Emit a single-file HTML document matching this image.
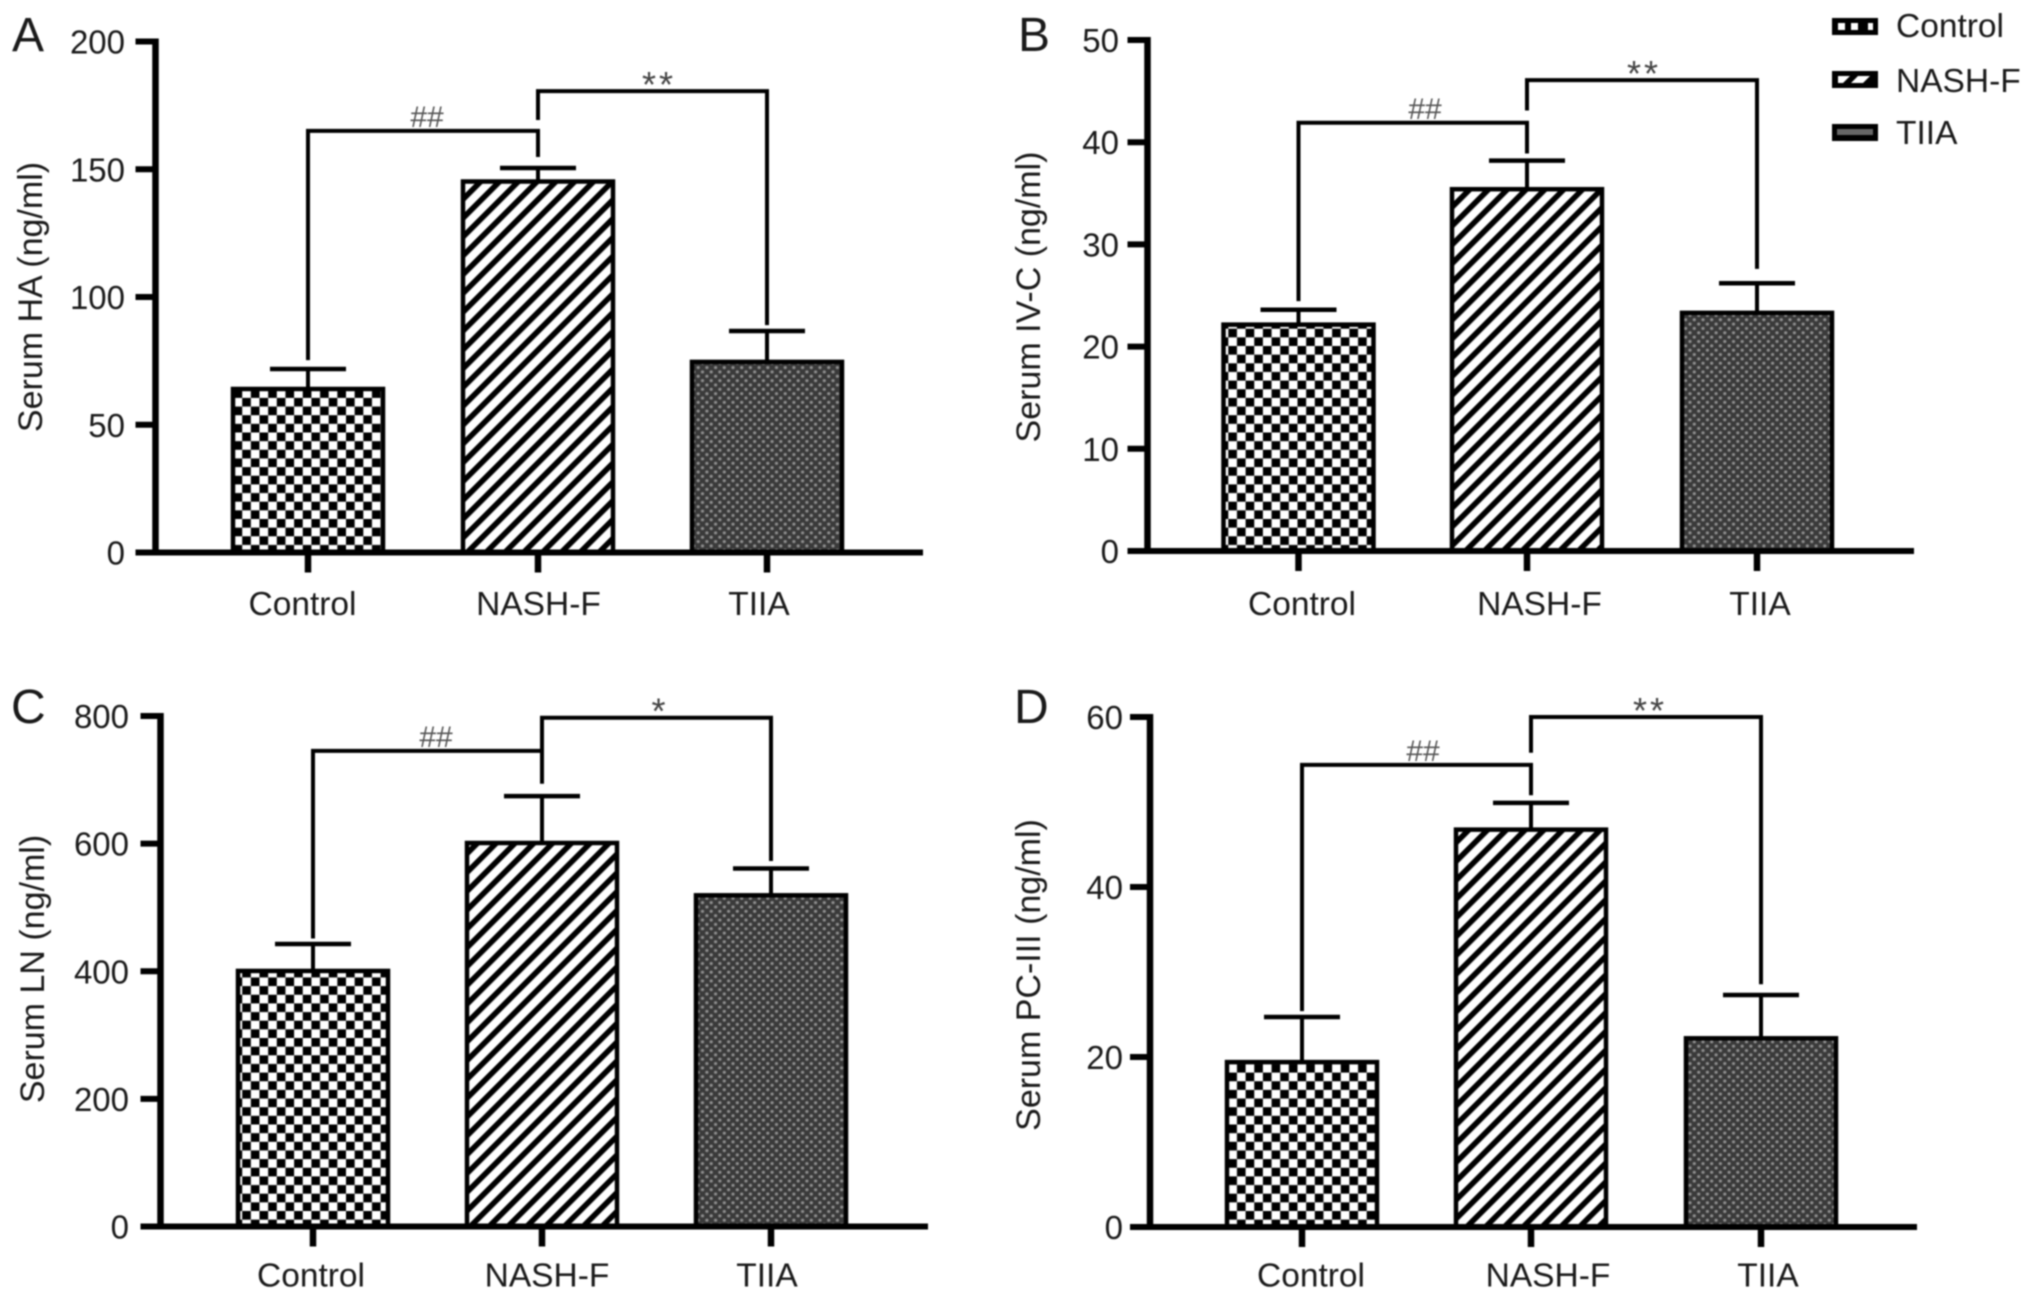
<!DOCTYPE html>
<html lang="en">
<head>
<meta charset="utf-8">
<title>Serum fibrosis markers</title>
<style>
  html, body { margin: 0; padding: 0; background: #fff; }
  #figure { display: block; width: 2032px; height: 1301px; filter: blur(0.8px); }
  text { font-family: "Liberation Sans", Arial, sans-serif; fill: #1a1a1a; }
</style>
</head>
<body>
<svg id="figure" xmlns="http://www.w3.org/2000/svg" width="2032" height="1301" viewBox="0 0 2032 1301">
  <defs>
    <pattern id="pat-check" patternUnits="userSpaceOnUse" width="17.3" height="17.3">
      <rect width="17.3" height="17.3" fill="#fff"/>
      <rect width="8.65" height="8.65" fill="#000"/>
      <rect x="8.65" y="8.65" width="8.65" height="8.65" fill="#000"/>
    </pattern>
    <pattern id="pat-stripe" patternUnits="userSpaceOnUse" width="13.3" height="13.3" patternTransform="rotate(45)">
      <rect width="13.3" height="13.3" fill="#fff"/>
      <rect width="5.6" height="13.3" fill="#000"/>
    </pattern>
    <pattern id="pat-dots" patternUnits="userSpaceOnUse" width="8.7" height="8.7">
      <rect width="8.7" height="8.7" fill="#3a3a3a"/>
      <circle cx="2.2" cy="2.2" r="1.6" fill="#8f8f8f"/>
      <circle cx="6.5" cy="6.5" r="1.6" fill="#8f8f8f"/>
    </pattern>
  </defs>
  <rect width="2032" height="1301" fill="#fff"/>

  <g id="legend">
    <g>
      <rect x="1833" y="19" width="44" height="15" fill="#000" stroke="#000" stroke-width="2"/>
      <rect x="1838" y="23" width="7" height="7" fill="#fff"/>
      <rect x="1851" y="23" width="7" height="7" fill="#fff"/>
      <rect x="1868" y="23" width="5" height="7" fill="#fff"/>
      <text x="1896" y="37" font-size="33.5">Control</text>
    </g>
    <g>
      <rect x="1833" y="72" width="44" height="15" fill="#000" stroke="#000" stroke-width="2"/>
      <polygon points="1838,76 1850,76 1843,83 1838,83" fill="#fff"/>
      <polygon points="1858,76 1870,76 1863,83 1851,83" fill="#fff"/>
      <text x="1896" y="92" font-size="33.5">NASH-F</text>
    </g>
    <g>
      <rect x="1833" y="125" width="44" height="15" fill="#000" stroke="#000" stroke-width="2"/>
      <rect x="1837" y="129" width="36" height="6" fill="#666"/>
      <text x="1896" y="144" font-size="33.5">TIIA</text>
    </g>
  </g>
</svg>

<script>
// ---------- chart data ----------
const categories = ['Control', 'NASH-F', 'TIIA'];

const panelAMeans = [64.0, 145.2, 74.6];
const panelAErrorTops = [71.8, 150.5, 86.7];
const panelATicks = [0, 50, 100, 150, 200];
const panelABrackets = [165.0, 180.6];
const panelABracketEnds = [75.3, 154.8, 169.3, 89.0];

const panelBMeans = [22.15, 35.4, 23.3];
const panelBErrorTops = [23.6, 38.2, 26.2];
const panelBTicks = [0, 10, 20, 30, 40, 50];
const panelBBrackets = [41.9, 46.07];
const panelBBracketEnds = [24.45, 38.9, 43.1, 27.6];

const panelCMeans = [400.5, 601, 519];
const panelCErrorTops = [442.7, 674.5, 561];
const panelCTicks = [0, 200, 400, 600, 800];
const panelCBrackets = [745.4, 797.3];
const panelCBracketEnds = [451.3, 693.9, 747.3, 572.8];

const panelDMeans = [19.4, 46.75, 22.2];
const panelDErrorTops = [24.7, 49.9, 27.3];
const panelDTicks = [0, 20, 40, 60];
const panelDBrackets = [54.37, 60];
const panelDBracketEnds = [25.4, 50.8, 55.8, 28.56];

const fills = ['url(#pat-check)', 'url(#pat-stripe)', 'url(#pat-dots)'];

const NS = 'http://www.w3.org/2000/svg';
const root = document.getElementById('figure');

function make(parent, tag, attrs, txt) {
  const el = document.createElementNS(NS, tag);
  for (const k in attrs) el.setAttribute(k, attrs[k]);
  if (txt !== undefined) el.textContent = txt;
  parent.appendChild(el);
  return el;
}

function drawPanel(p) {
  const g = make(root, 'g', {});
  
  

  const maxTick = p.ticks[p.ticks.length - 1];
  const yScale = v => p.y0 + (p.yTop - p.y0) * (v / maxTick);

  // panel letter
  const letter = make(g, 'text', { x: p.letterX, y: p.letterY, 'font-size': 48 }, p.id);
  
  

  // y-axis title
  const title = make(g, 'text', {
    transform: 'translate(' + p.titleX + ',' + p.titleY + ') rotate(-90)',
    'text-anchor': 'middle', 'font-size': 34
  }, p.title);
  
  

  // bars
  categories.forEach((c, i) => {
    const cx = p.xs[i];
    const top = yScale(p.means[i]);
    const capY = yScale(p.errorTops[i]);

    const stem = make(g, 'line', { x1: cx, x2: cx, y1: capY, y2: top, stroke: '#000', 'stroke-width': 4 });
    
    

    const cap = make(g, 'line', { x1: cx - 38, x2: cx + 38, y1: capY, y2: capY, stroke: '#000', 'stroke-width': 4.5 });
    
    

    const bar = make(g, 'rect', {
      x: cx - 75, y: top, width: 150, height: p.y0 - top,
      fill: fills[i], stroke: '#000', 'stroke-width': 4.5
    });
    
    

    const tick = make(g, 'line', { x1: cx, x2: cx, y1: p.y0, y2: p.y0 + 20, stroke: '#000', 'stroke-width': 6.5 });
    
    

    const lab = make(g, 'text', { x: p.labelXs[i], y: p.labelY, 'text-anchor': 'middle', 'font-size': 33.5 }, c);
    
    
  });

  // axes
  const yAxis = make(g, 'line', { x1: p.axisX, x2: p.axisX, y1: p.yTop - 3, y2: p.y0, stroke: '#000', 'stroke-width': 6.5 });
  
  

  const xAxis = make(g, 'line', { x1: p.axisX - 20, x2: p.xEnd, y1: p.y0, y2: p.y0, stroke: '#000', 'stroke-width': 6 });
  
  

  p.ticks.forEach(t => {
    const y = yScale(t);
    const tk = make(g, 'line', { x1: p.axisX - 20, x2: p.axisX, y1: y, y2: y, stroke: '#000', 'stroke-width': 6 });
    
    
    const tl = make(g, 'text', { x: p.tickLabelX, y: y + 12, 'text-anchor': 'end', 'font-size': 33 }, String(t));
    
    
  });

  // significance brackets
  const lowY = yScale(p.brackets[0]);
  const upY = yScale(p.brackets[1]);
  const low = make(g, 'polyline', {
    points: p.xs[0] + ',' + yScale(p.bracketEnds[0]) + ' ' + p.xs[0] + ',' + lowY + ' ' +
            p.xs[1] + ',' + lowY + ' ' + p.xs[1] + ',' + yScale(p.bracketEnds[1]),
    fill: 'none', stroke: '#000', 'stroke-width': 4
  });
  
  

  const up = make(g, 'polyline', {
    points: p.xs[1] + ',' + yScale(p.bracketEnds[2]) + ' ' + p.xs[1] + ',' + upY + ' ' +
            p.xs[2] + ',' + upY + ' ' + p.xs[2] + ',' + yScale(p.bracketEnds[3]),
    fill: 'none', stroke: '#000', 'stroke-width': 4
  });
  
  

  const hash = make(g, 'text', {
    x: p.hashX, y: lowY - 4, 'text-anchor': 'middle', 'font-size': 30
  }, '##');
  hash.style.fill = '#555';
  
  

  const star = make(g, 'text', {
    x: p.starX, y: upY + 6, 'text-anchor': 'middle', 'font-size': 36, 'letter-spacing': 3
  }, p.star);
  star.style.fill = '#444';
  
  
}

drawPanel({
  id: 'A', title: 'Serum HA (ng/ml)', star: '**',
  means: panelAMeans, errorTops: panelAErrorTops, ticks: panelATicks,
  brackets: panelABrackets, bracketEnds: panelABracketEnds,
  axisX: 155.5, yTop: 41.5, y0: 552.5, xEnd: 923, xs: [308, 538, 767],
  labelXs: [302.5, 538.5, 759], labelY: 615, tickLabelX: 125,
  letterX: 12, letterY: 51, titleX: 42, titleY: 297,
  hashX: 427, starX: 659
});
drawPanel({
  id: 'B', title: 'Serum IV-C (ng/ml)', star: '**',
  means: panelBMeans, errorTops: panelBErrorTops, ticks: panelBTicks,
  brackets: panelBBrackets, bracketEnds: panelBBracketEnds,
  axisX: 1147.5, yTop: 40, y0: 551, xEnd: 1914, xs: [1298.5, 1527, 1757],
  labelXs: [1302, 1539.5, 1760], labelY: 615, tickLabelX: 1119,
  letterX: 1018, letterY: 51, titleX: 1040, titleY: 297,
  hashX: 1425, starX: 1644
});
drawPanel({
  id: 'C', title: 'Serum LN (ng/ml)', star: '*',
  means: panelCMeans, errorTops: panelCErrorTops, ticks: panelCTicks,
  brackets: panelCBrackets, bracketEnds: panelCBracketEnds,
  axisX: 160.5, yTop: 716, y0: 1226.5, xEnd: 928, xs: [313, 542, 771],
  labelXs: [311, 547, 767], labelY: 1286.5, tickLabelX: 129,
  letterX: 11, letterY: 723, titleX: 44, titleY: 969,
  hashX: 436, starX: 660
});
drawPanel({
  id: 'D', title: 'Serum PC-III (ng/ml)', star: '**',
  means: panelDMeans, errorTops: panelDErrorTops, ticks: panelDTicks,
  brackets: panelDBrackets, bracketEnds: panelDBracketEnds,
  axisX: 1150, yTop: 717, y0: 1227, xEnd: 1917, xs: [1302, 1531, 1761],
  labelXs: [1311, 1548, 1768], labelY: 1286.5, tickLabelX: 1123,
  letterX: 1014, letterY: 723, titleX: 1040, titleY: 975,
  hashX: 1423, starX: 1650
});
</script>
</body>
</html>
